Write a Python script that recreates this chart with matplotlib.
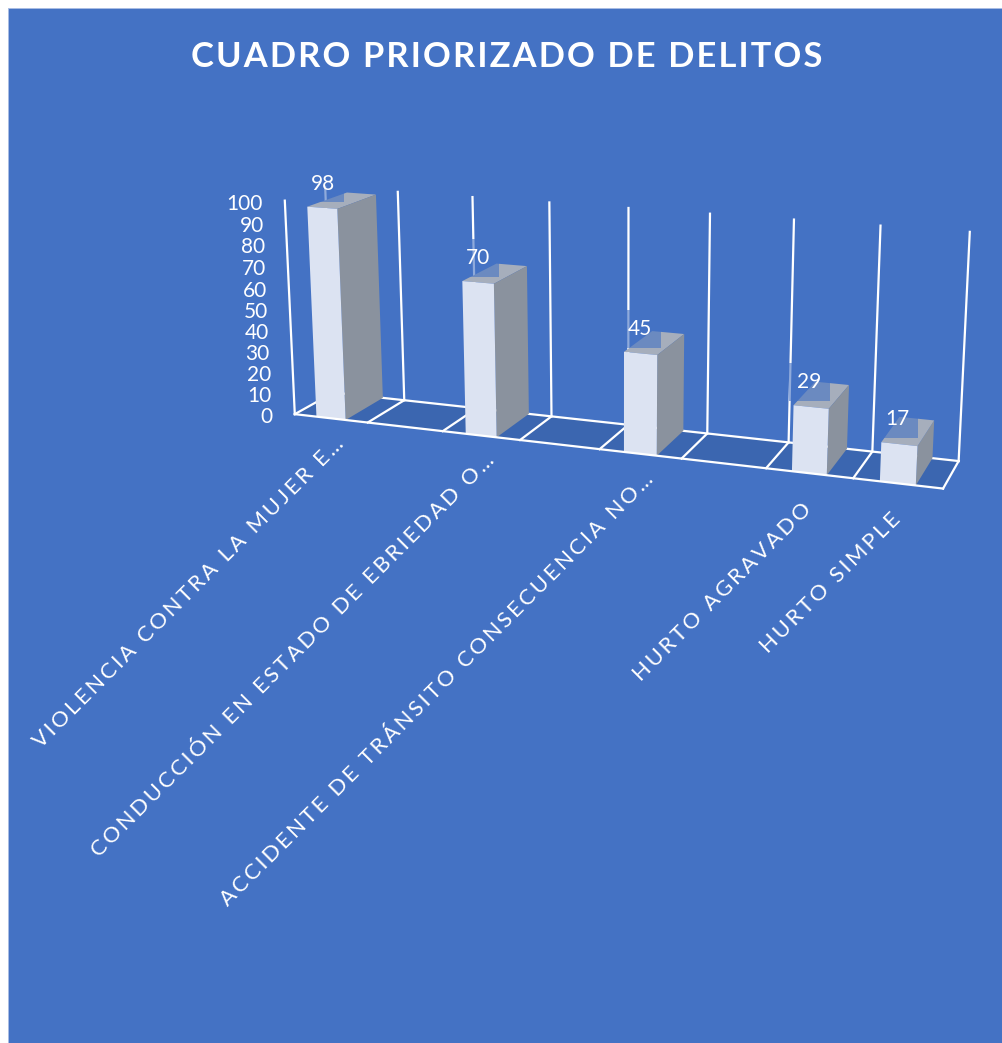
import numpy as np
import matplotlib
matplotlib.use("Agg")
import matplotlib.pyplot as plt
from matplotlib.patches import Rectangle
from matplotlib.transforms import Affine2D
from mpl_toolkits.mplot3d import art3d

# Excel left empty slots between the first categories
categories = ["VIOLENCIA CONTRA LA MUJER E…", "", "CONDUCCIÓN EN ESTADO DE EBRIEDAD O…", "",
              "ACCIDENTE DE TRÁNSITO CONSECUENCIA NO…", "", "HURTO AGRAVADO", "HURTO SIMPLE"]
values = [98, None, 70, None, 45, None, 29, 17]
value_ticks = [0, 10, 20, 30, 40, 50, 60, 70, 80, 90, 100]
title = "CUADRO PRIORIZADO DE DELITOS"

W, H = 1003, 1043
BLUE = "#4472C4"
FLOOR = "#3B66B0"
BAR_FRONT = "#DCE3F2"
BAR_TOP = "#A6AEBC"
BAR_SIDE = "#8A929E"
CLEAR = (0, 0, 0, 0)

plt.rcParams["font.family"] = ["Lato", "DejaVu Sans"]

n_slots = len(categories)

# camera: where known points of the box (slot, depth, value) land in the image
anchors = [
    (0, 0, 0, 295, 415), (1, 0, 0, 368, 422), (4, 0, 0, 600, 448), (8, 0, 0, 943, 489),
    (0, 1, 0, 332, 392), (1, 1, 0, 405, 400), (4, 1, 0, 629, 425), (8, 1, 0, 958, 462),
    (0, 0, 100, 284, 201), (0, 1, 100, 326, 187), (1, 1, 100, 398, 192),
    (4, 1, 100, 628, 208), (8, 1, 100, 970, 231),
]
rows, rhs = [], []
for u, d, v, px, py in anchors:
    rows.append([u, d, v, 1, 0, 0, 0, 0, -px * u, -px * d, -px * v])
    rows.append([0, 0, 0, 0, u, d, v, 1, -py * u, -py * d, -py * v])
    rhs += [px, py]
p = np.linalg.lstsq(np.array(rows, float), np.array(rhs, float), rcond=None)[0]
camera = np.array([p[:4], p[4:8], [0, 1, 0, 0], [p[8], p[9], p[10], 1]])


def to_image(u, d, v):
    q = camera @ np.array([u, d, v, 1.0])
    return q[0] / q[3], q[1] / q[3]


def spaced(text, gap):
    return gap.join(text)


fig = plt.figure(figsize=(W / 100, H / 100), dpi=100, facecolor="white")
fig.add_artist(Rectangle((8 / W, 0), (W - 8) / W, (H - 8) / H, transform=fig.transFigure,
                         facecolor=BLUE, edgecolor="#A9BDE4", linewidth=0.7, zorder=-1))

ax = fig.add_axes([0, 0, 1, 1], projection="3d")
ax.set_axis_off()
ax.patch.set_visible(False)
ax.computed_zorder = False
ax.apply_aspect = lambda position=None: None
ax.get_proj = lambda: camera
# the camera gives image pixels, y going down
ax.transData = Affine2D().scale(1, -1).translate(0, H)

floor = art3d.Poly3DCollection([[(0, 0, 0), (n_slots, 0, 0), (n_slots, 1, 0), (0, 1, 0)]],
                               facecolors=FLOOR, linewidths=0, zorder=1)
ax.add_collection3d(floor)

back_lines = []
for u in range(n_slots + 1):
    back_lines.append([(u, 1, 0), (u, 1, 100)])
    back_lines.append([(u, 0, 0), (u, 1, 0)])
back_lines.append([(0, 1, 0), (n_slots, 1, 0)])
back_lines.append([(0, 0, 0), (0, 0, 100)])
ax.add_collection3d(art3d.Line3DCollection(back_lines, colors="white", linewidths=1.6,
                                           capstyle="projecting", zorder=2))
front_line = [[(0, 0, 0), (n_slots, 0, 0)]]
ax.add_collection3d(art3d.Line3DCollection(front_line, colors="white", linewidths=1.6,
                                           capstyle="projecting", zorder=4))

slots = [i for i, v in enumerate(values) if v is not None]
heights = [values[i] for i in slots]
bar_width = 0.4
# faces in bar3d order: bottom, top, front, back, left, right
face_colors = [CLEAR, BAR_TOP, BAR_FRONT, CLEAR, CLEAR, BAR_SIDE] * len(slots)
ax.bar3d([i + 0.5 - bar_width / 2 for i in slots], [0] * len(slots), [0] * len(slots),
         bar_width, 1, heights, color=face_colors, shade=False, linewidth=0, zorder=3)

for i, v in zip(slots, heights):
    px, py = to_image(i + 0.5 - bar_width / 2, 0, v)
    ax.text2D(px + 16, py - 23, str(v), transform=ax.transData, color="white", fontsize=15,
              ha="center", va="center", zorder=5,
              bbox=dict(boxstyle="square,pad=0.42", facecolor=BLUE, edgecolor="none", alpha=0.6))

for t in value_ticks:
    px, py = to_image(0, 0, t)
    ax.text2D(px - 22, py + 3, str(t), transform=ax.transData, color="white", fontsize=15,
              ha="right", va="center", zorder=5)

for i, name in enumerate(categories):
    if name:
        px, py = to_image(i + 0.5, 0, 0)
        # full names stop a little short of where the cut ones do
        back = 0 if name.endswith("…") else 11
        ax.text2D(px + 10 - back, py + 22 + back, spaced(name, "\u2009"), transform=ax.transData,
                  color="white", fontsize=15.8, rotation=45, rotation_mode="anchor",
                  ha="right", va="center", zorder=5)

fig.text(507 / W, 1 - 57 / H, spaced(title, "\u200a"), color="white", fontsize=24.8, fontweight="bold",
         ha="center", va="center")

fig.savefig("out.png", dpi=100, facecolor=fig.get_facecolor())
